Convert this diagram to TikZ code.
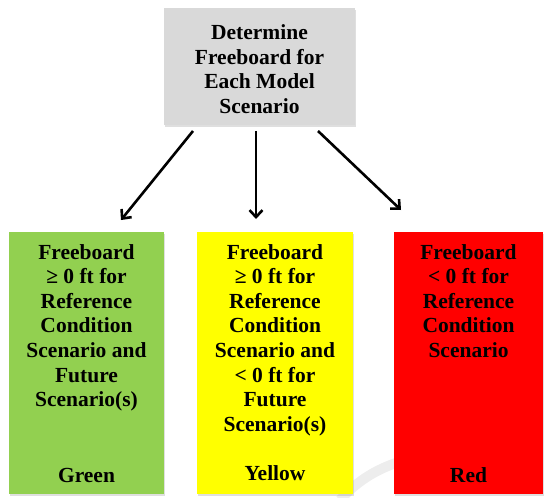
\documentclass[tikz,border=0pt]{standalone}
\usepackage{fontspec}
\setmainfont{Liberation Serif}
\newfontfamily\symfont{DejaVu Serif}
\usetikzlibrary{shadows,arrows.meta}
\definecolor{boxgray}{HTML}{D9D9D9}
\definecolor{boxgreen}{HTML}{92D050}
\definecolor{boxyellow}{HTML}{FFFF00}
\definecolor{boxred}{HTML}{FF0000}
\definecolor{wmark}{HTML}{EDEDED}
\newcommand{\gesym}{{\symfont\bfseries ≥}}
\begin{document}
\begin{tikzpicture}[x=1pt,y=-1pt,
  box/.style={rectangle, draw=none, inner sep=0pt,
    drop shadow={opacity=0.25, shadow xshift=0.8pt, shadow yshift=-1.6pt}},
  txt/.style={align=center, inner sep=0pt, font=\fontsize{21.5}{24.6}\bfseries\selectfont},
  arr/.style={line width=2.6pt, -{Straight Barb[length=7pt,width=13pt,line width=2.6pt]}}
]
\useasboundingbox (0,0) rectangle (545,497);
\draw[line width=10pt, wmark] (340,500) .. controls (358,480) and (378,468) .. (405,460);
% top box
\node[box, fill=boxgray, minimum width=191pt, minimum height=117pt] (top) at (259.5,66.5) {};
\node[txt, anchor=center] (toptxt) at (259.5,69) {Determine\\Freeboard for\\Each Model\\Scenario};
% bottom boxes
\node[box, fill=boxgreen, minimum width=155pt, minimum height=262pt] (g) at (86.5,363) {};
\node[box, fill=boxyellow, minimum width=156pt, minimum height=262pt] (y) at (275,363) {};
\node[box, fill=boxred, minimum width=149pt, minimum height=262pt] (r) at (468.5,363) {};
\node[txt, anchor=north] (gtxt) at (86.5,244) {Freeboard\\≥ 0 ft for\\Reference\\Condition\\Scenario and\\Future\\Scenario(s)};
\node[txt, anchor=north] (ytxt) at (275,244) {Freeboard\\≥ 0 ft for\\Reference\\Condition\\Scenario and\\< 0 ft for\\Future\\Scenario(s)};
\node[txt, anchor=north] (rtxt) at (468.5,244) {Freeboard\\< 0 ft for\\Reference\\Condition\\Scenario};
\node[txt] (glab) at (86.5,475) {Green};
\node[txt] (ylab) at (275,473) {Yellow};
\node[txt] (rlab) at (468.5,475) {Red};
% arrows
\coordinate (a1s) at (193,131); \coordinate (a1e) at (121,220);
\coordinate (a2s) at (256,131); \coordinate (a2e) at (256,219);
\coordinate (a3s) at (318,131); \coordinate (a3e) at (401,210);
\draw[arr] (a1s) -- (a1e);
\draw[arr] (a2s) -- (a2e);
\draw[arr] (a3s) -- (a3e);
\end{tikzpicture}
\end{document}
